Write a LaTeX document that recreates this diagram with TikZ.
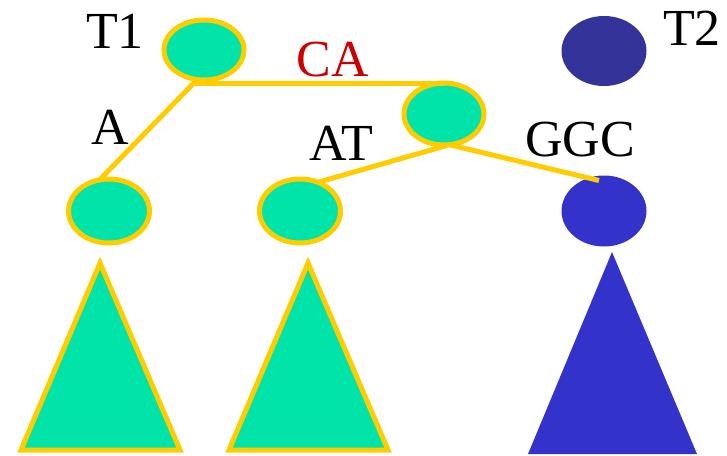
\documentclass[tikz,border=0pt]{standalone}
\usepackage{fontspec}
\setmainfont{Liberation Serif}
\usetikzlibrary{shapes.geometric,calc}
\definecolor{leafgreen}{HTML}{00E3A9}
\definecolor{edgeyellow}{HTML}{FFCC00}
\definecolor{nodeblue}{HTML}{3333CC}
\definecolor{rootblue}{HTML}{333399}
\definecolor{labelred}{HTML}{CC0000}
\tikzset{
  greennode/.style={ellipse, draw=edgeyellow, fill=leafgreen, line width=5pt,
    inner sep=0pt, outer sep=0pt, minimum width=80pt, minimum height=62pt},
  bluenode/.style={ellipse, fill=#1, inner sep=0pt, outer sep=0pt,
    minimum width=85pt, minimum height=71pt},
  edge/.style={draw=edgeyellow, line width=5pt},
  lbl/.style={inner sep=0pt, font=\fontsize{52}{60}\selectfont},
  greentri/.style={draw=edgeyellow, fill=leafgreen, line width=5pt},
}
\begin{document}
\begin{tikzpicture}[x=1pt, y=-1pt]
\useasboundingbox (0,0) rectangle (727,455);

% subtrees below the leaves
\path[greentri] (100,263) -- (180,450) -- (21,450) -- cycle;
\path[greentri] (308,263) -- (388,450) -- (229,450) -- cycle;
\fill[nodeblue] (612,252) -- (697,454) -- (528,454) -- cycle;

% tree nodes
\node[greennode, minimum height=60pt] (t1) at (204,50) {};
\node[greennode] (mid) at (444,114) {};
\node[greennode, minimum width=81pt, minimum height=64pt] (left) at (109,211) {};
\node[greennode, minimum width=81pt, minimum height=64pt] (midleft) at (300,211) {};
\node[bluenode=nodeblue] (right) at (604,211) {};
\node[bluenode=rootblue, minimum height=70pt] (t2) at (604,51) {};

% edges
\coordinate (fork) at (t1.257);
\draw[edge] (fork) -- (left.107);
\draw[edge] (fork) -- (fork |- mid.north) -- (mid.north);
\draw[edge] (mid.280) -- (midleft.58);
\draw[edge] (mid.280) -- ($(right.north)+(-5,5)$);

% labels
\node[lbl] (lt1) at (115,31) {T1};
\node[lbl] (lt2) at (692,28) {T2};
\node[lbl, text=labelred] (lca) at (333,60) {CA};
\node[lbl] (la) at (110,127) {A};
\node[lbl] (lat) at (341,143) {AT};
\node[lbl] (lggc) at (580,140) {GGC};
\end{tikzpicture}
\end{document}
